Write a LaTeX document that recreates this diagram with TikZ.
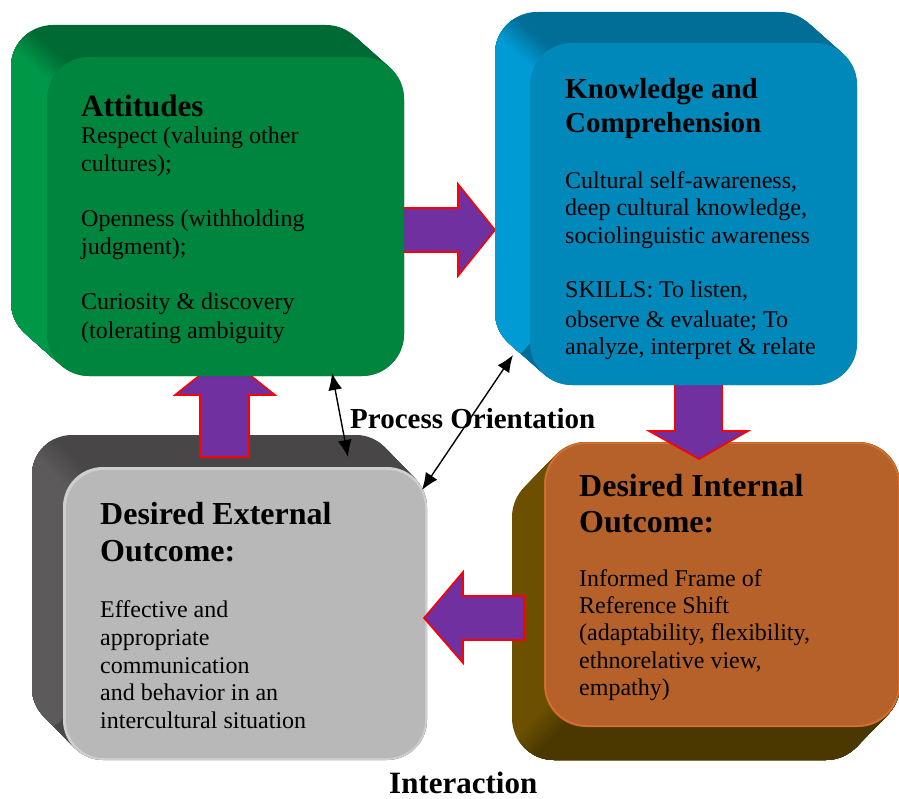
\documentclass[tikz,border=0pt]{standalone}
\usepackage{fontspec}
\setmainfont{Liberation Serif}
\usetikzlibrary{arrows.meta}
\definecolor{gFront}{RGB}{0,133,62}
\definecolor{gLeft}{RGB}{0,152,72}
\definecolor{gTop}{RGB}{0,106,52}
\definecolor{bFront}{RGB}{0,136,186}
\definecolor{bLeft}{RGB}{0,155,212}
\definecolor{bTop}{RGB}{0,110,150}
\definecolor{kFront}{RGB}{184,184,184}
\definecolor{kRim}{RGB}{206,206,206}
\definecolor{kLeft}{RGB}{92,90,90}
\definecolor{kTop}{RGB}{72,70,70}
\definecolor{oFront}{RGB}{181,97,41}
\definecolor{oRim}{RGB}{214,112,48}
\definecolor{oLeft}{RGB}{108,80,0}
\definecolor{oBottom}{RGB}{74,56,0}
\definecolor{arrPurple}{RGB}{112,48,160}
\definecolor{arrRed}{RGB}{255,0,0}
\newcommand\sweepbox[7]{%
  \foreach \ii in {0,...,30}{%
    \fill[rounded corners=#7pt] ({#1+\ii/30*(#5)},{#2+\ii/30*(#6)}) rectangle ({#3+\ii/30*(#5)},{#4+\ii/30*(#6)});}}
\newcommand\gsweep{\sweepbox{47}{57}{404}{376}{-36}{-32}{42}}
\newcommand\bsweep{\sweepbox{530}{43}{857}{385}{-35}{-31}{42}}
\newcommand\ksweep{\sweepbox{63}{467}{427}{760}{-31}{-32}{40}}
\newcommand\osweep{\sweepbox{544}{442}{900}{727}{-32}{33}{42}}
\tikzset{
  body/.style={anchor=base west, inner sep=0pt, font=\fontsize{24}{28}\selectfont},
  head/.style={anchor=base west, inner sep=0pt, font=\bfseries\fontsize{#1}{#1}\selectfont},
  head/.default=32,
  blockarrow/.style={fill=arrPurple},
  blockline/.style={draw=arrRed, line width=1.6pt, line join=miter},
  thinarrow/.style={{Latex[length=17pt,width=14pt]}-{Latex[length=17pt,width=14pt]}, line width=1.4pt, black}
}
\begin{document}
\begin{tikzpicture}[x=1pt,y=-1pt]
\useasboundingbox (0,0) rectangle (899,799);

% ---------- orange box (Desired Internal Outcome) ----------
\begin{scope}[fill=oLeft]\osweep\end{scope}
\foreach \k in {0,...,8}{
  \pgfmathsetmacro\mixv{(\k+1)*100/9}
  \begin{scope}
    \clip[shift={({(\k-4)*3*0.72},{(\k-4)*3*0.70})}] (490,784) -- (682,586) -- (1100,586) -- (1100,1000) -- (490,1000) -- cycle;
    \begin{scope}[fill=oBottom!\mixv!oLeft]\osweep\end{scope}
  \end{scope}}
\fill[oFront, rounded corners=42pt] (544,442) rectangle (900,727);
\draw[oRim, line width=1.5pt, rounded corners=42pt] (545,443) rectangle (899,726);
\fill[oFront, rounded corners=40pt] (547,445) rectangle (897,724);

% ---------- gray box (Desired External Outcome) ----------
\begin{scope}[fill=kTop]\ksweep\end{scope}
\foreach \k in {0,...,8}{
  \pgfmathsetmacro\mixv{(\k+1)*100/9}
  \begin{scope}
    \clip[shift={({(\k-4)*3*-0.72},{(\k-4)*3*0.70})}] (10,411) -- (196,603) -- (-150,900) -- (-150,411) -- cycle;
    \begin{scope}[fill=kLeft!\mixv!kTop]\ksweep\end{scope}
  \end{scope}}
\fill[kRim, rounded corners=40pt] (63,467) rectangle (427,760);
\fill[kFront, rounded corners=38pt] (66,470) rectangle (425,758);

% ---------- block arrows ----------
% down: Knowledge -> Internal
\fill[blockarrow] (675,375) -- (722,375) -- (722,431) -- (748,431) -- (699,459) -- (649,431) -- (675,431) -- cycle;
\draw[blockline] (675,385) -- (675,431) -- (649,431) -- (699,459) -- (748,431) -- (722,431) -- (722,385);
% left: Internal -> External
\fill[blockarrow] (524,596) -- (463,596) -- (463,572) -- (424,618) -- (463,663) -- (463,640) -- (524,640) -- cycle;
\draw[blockline] (524,596) -- (463,596) -- (463,572) -- (424,618) -- (463,663) -- (463,640) -- (524,640) -- cycle;
% up: External -> Attitudes
\fill[blockarrow] (200,457) -- (249,457) -- (249,395) -- (275,395) -- (225,355) -- (175,395) -- (200,395) -- cycle;
\draw[blockline] (200,457) -- (249,457) -- (249,395) -- (275,395) -- (225,355) -- (175,395) -- (200,395) -- cycle;
% right: Attitudes -> Knowledge
\fill[blockarrow] (395,208) -- (458,208) -- (458,184) -- (495,230) -- (458,276) -- (458,252) -- (395,252) -- cycle;
\draw[blockline] (404,208) -- (458,208) -- (458,184) -- (495,230) -- (458,276) -- (458,252) -- (404,252);

% ---------- green box (Attitudes) ----------
\begin{scope}[fill=gTop]\gsweep\end{scope}
\foreach \k in {0,...,8}{
  \pgfmathsetmacro\mixv{(\k+1)*100/9}
  \begin{scope}
    \clip[shift={({(\k-4)*3*-0.66},{(\k-4)*3*0.75})}] (-19,3) -- (197,195) -- (-150,600) -- (-150,3) -- cycle;
    \begin{scope}[fill=gLeft!\mixv!gTop]\gsweep\end{scope}
  \end{scope}}
\fill[gFront, rounded corners=42pt] (47,57) rectangle (404,376);

% ---------- blue box (Knowledge and Comprehension) ----------
\begin{scope}[fill=bTop]\bsweep\end{scope}
\foreach \k in {0,...,8}{
  \pgfmathsetmacro\mixv{(\k+1)*100/9}
  \begin{scope}
    \clip[shift={({(\k-4)*3*-0.66},{(\k-4)*3*0.75})}] (467,-8) -- (677,178) -- (300,600) -- (300,-8) -- cycle;
    \begin{scope}[fill=bLeft!\mixv!bTop]\bsweep\end{scope}
  \end{scope}}
\fill[bFront, rounded corners=42pt] (530,43) rectangle (857,385);

% ---------- texts ----------
\node[head=31] (att-h) at (81,117) {Attitudes};
\node[body] (att-1) at (81,144) {Respect (valuing other};
\node[body] (att-2) at (81,172) {cultures);};
\node[body] (att-3) at (81,227) {Openness (withholding};
\node[body] (att-4) at (81,255) {judgment);};
\node[body] (att-5) at (81,310) {Curiosity \& discovery};
\node[body] (att-6) at (81,338) {(tolerating ambiguity};

\node[head=29] (kno-h1) at (565,99) {Knowledge and};
\node[head=29] (kno-h2) at (565,133) {Comprehension};
\node[body] (kno-1) at (565,189) {Cultural self-awareness,};
\node[body] (kno-2) at (565,216) {deep cultural knowledge,};
\node[body] (kno-3) at (565,244) {sociolinguistic awareness};
\node[body] (kno-4) at (565,298) {SKILLS: To listen,};
\node[body] (kno-5) at (565,327) {observe \& evaluate; To};
\node[body] (kno-6) at (565,355) {analyze, interpret \& relate};

\node[head] (int-h1) at (579,496) {Desired Internal};
\node[head] (int-h2) at (579,532) {Outcome:};
\node[body] (int-1) at (579,586) {Informed Frame of};
\node[body] (int-2) at (579,613) {Reference Shift};
\node[body] (int-3) at (579,640) {(adaptability, flexibility,};
\node[body] (int-4) at (579,668) {ethnorelative view,};
\node[body] (int-5) at (579,695) {empathy)};

\node[head] (ext-h1) at (100,524) {Desired External};
\node[head] (ext-h2) at (100,561) {Outcome:};
\node[body] (ext-1) at (100,617) {Effective and};
\node[body] (ext-2) at (100,645) {appropriate};
\node[body] (ext-3) at (100,673) {communication};
\node[body] (ext-4) at (100,700) {and behavior in an};
\node[body] (ext-5) at (100,728) {intercultural situation};

\node[head=29] (proc) at (350,428) {Process Orientation};
\node[head=31] (inter) at (389,793) {Interaction};

% ---------- thin double arrows ----------
\coordinate (pa1) at (332,373);
\coordinate (pb1) at (348,457);
\coordinate (pa2) at (513,355);
\coordinate (pb2) at (422,490);
\draw[thinarrow] (pa1) -- (pb1);
\draw[thinarrow] (pa2) -- (pb2);
\end{tikzpicture}
\end{document}
